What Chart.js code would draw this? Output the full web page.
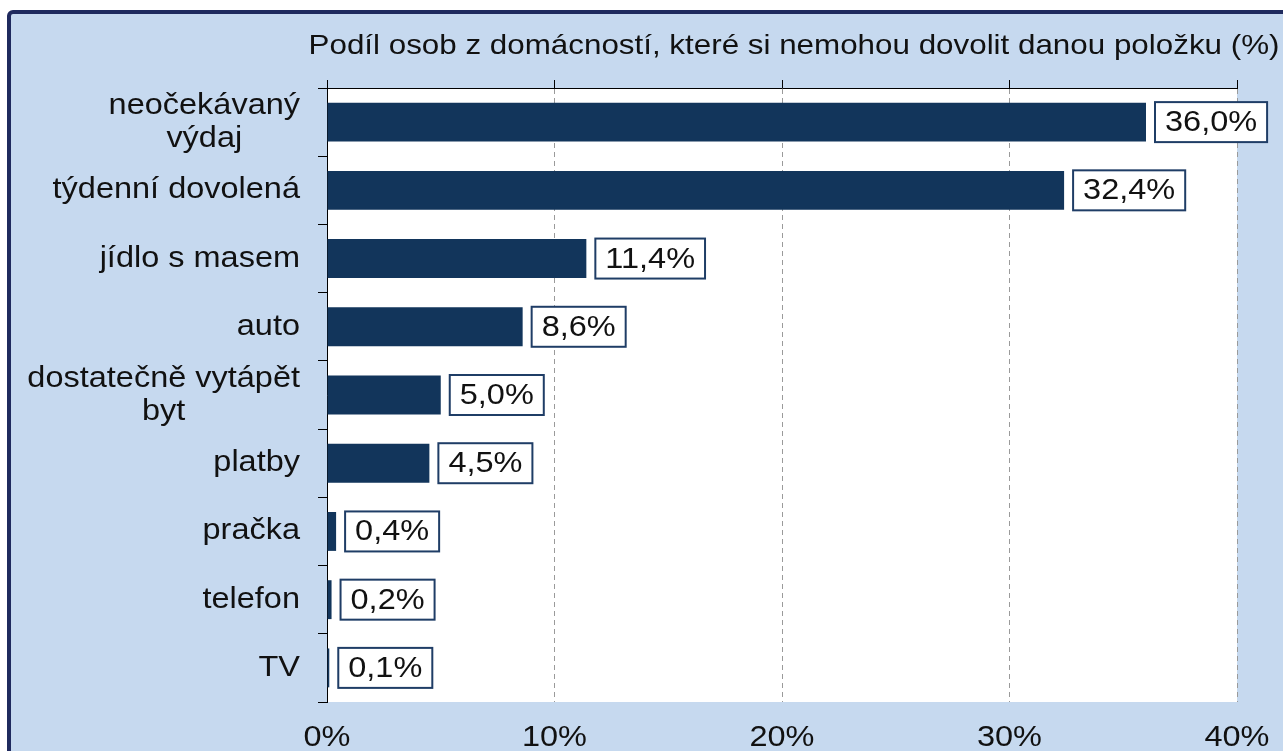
<!DOCTYPE html>
<html>
<head>
<meta charset="utf-8">
<script src="https://cdn.jsdelivr.net/npm/chart.js@4"></script>
<style>
  body { margin: 0; background: #fff; }
  canvas { display: block; }
</style>
</head>
<body>
<canvas id="chart" width="1283" height="751"></canvas>
<script>
const chartTitle = 'Podíl osob z domácností, které si nemohou dovolit danou položku (%)';
const categories = [
  ['neočekávaný', 'výdaj'],
  'týdenní dovolená',
  'jídlo s masem',
  'auto',
  ['dostatečně vytápět', 'byt'],
  'platby',
  'pračka',
  'telefon',
  'TV'
];
const values = [36.0, 32.4, 11.4, 8.6, 5.0, 4.5, 0.4, 0.2, 0.1];
const xMin = 0;
const xMax = 40;
const xStep = 10;

const FONT = '"Liberation Sans", Arial, sans-serif';
const navy = '#12355b';
const SX = 1.12; // the reference text is a bit wide

function fmt(v) {
  return v.toFixed(1).replace('.', ',') + '%';
}

function wideText(ctx, txt, x, y, align) {
  ctx.save();
  ctx.translate(x, y);
  ctx.scale(SX, 1);
  ctx.textAlign = align;
  ctx.fillText(txt, 0, 0);
  ctx.restore();
}

// background, outer frame and white plot area
const frame = {
  id: 'frame',
  beforeDraw(chart) {
    const { ctx, chartArea } = chart;
    ctx.save();
    ctx.fillStyle = '#ffffff';
    ctx.fillRect(0, 0, chart.width, chart.height);
    ctx.fillStyle = '#c6d9ef';
    ctx.strokeStyle = '#1f2a5e';
    ctx.lineWidth = 4;
    ctx.beginPath();
    ctx.roundRect(9, 12, chart.width + 20, chart.height + 20, 4);
    ctx.fill();
    ctx.stroke();
    ctx.fillStyle = '#ffffff';
    ctx.fillRect(chartArea.left, chartArea.top, chartArea.right - chartArea.left, chartArea.bottom - chartArea.top);
    ctx.restore();
  }
};

// title, axis labels and value boxes
const texts = {
  id: 'texts',
  afterDraw(chart) {
    const { ctx, chartArea } = chart;
    const y = chart.scales.y;
    const x = chart.scales.x;
    ctx.save();
    ctx.fillStyle = '#111111';
    ctx.font = '28px ' + FONT;
    ctx.textBaseline = 'alphabetic';
    wideText(ctx, chartTitle, 794, 54, 'center');

    ctx.font = '29px ' + FONT;
    ctx.textBaseline = 'middle';
    categories.forEach((lab, i) => {
      const cy = y.getPixelForValue(i);
      const lines = Array.isArray(lab) ? lab : [lab];
      const w = Math.max(...lines.map(l => ctx.measureText(l).width)) * SX;
      const right = chartArea.left - 27;
      const lh = 33;
      lines.forEach((l, j) => {
        wideText(ctx, l, right - w / 2, cy + (j - (lines.length - 1) / 2) * lh, 'center');
      });
    });

    x.ticks.forEach(t => {
      wideText(ctx, t.value + '%', x.getPixelForValue(t.value), 738, 'center');
    });

    const meta = chart.getDatasetMeta(0);
    meta.data.forEach((bar, i) => {
      const txt = fmt(values[i]);
      const tw = ctx.measureText(txt).width * SX;
      const bx = bar.x + 9;
      const bw = tw + 20;
      const bh = 40;
      ctx.fillStyle = '#ffffff';
      ctx.strokeStyle = '#1f3d66';
      ctx.lineWidth = 2;
      ctx.fillRect(bx, bar.y - bh / 2, bw, bh);
      ctx.strokeRect(bx, bar.y - bh / 2, bw, bh);
      ctx.fillStyle = '#111111';
      wideText(ctx, txt, bx + 10, bar.y + 1, 'left');
    });
    ctx.restore();
  }
};

new Chart(document.getElementById('chart'), {
  type: 'bar',
  data: {
    labels: categories,
    datasets: [{
      data: values,
      backgroundColor: navy,
      borderWidth: 0,
      barPercentage: 0.57,
      categoryPercentage: 1
    }]
  },
  options: {
    indexAxis: 'y',
    responsive: false,
    animation: false,
    layout: { padding: { left: 0, right: 46, top: 0, bottom: 49 } },
    plugins: {
      legend: { display: false },
      title: { display: false },
      tooltip: { enabled: false }
    },
    scales: {
      x: {
        position: 'top',
        min: xMin,
        max: xMax,
        ticks: { display: false, stepSize: xStep },
        grid: {
          color: '#9a9a9a',
          lineWidth: 1,
          tickColor: '#000000',
          tickLength: 8
        },
        border: { display: true, color: '#000000', width: 1, dash: [5, 4] },
        afterFit(scale) { scale.height = 88; }
      },
      y: {
        ticks: { display: false },
        grid: {
          drawOnChartArea: false,
          tickColor: '#000000',
          tickLength: 9
        },
        border: { display: true, color: '#000000', width: 1 },
        afterFit(scale) { scale.width = 327; }
      }
    }
  },
  plugins: [frame, texts]
});
</script>
</body>
</html>
